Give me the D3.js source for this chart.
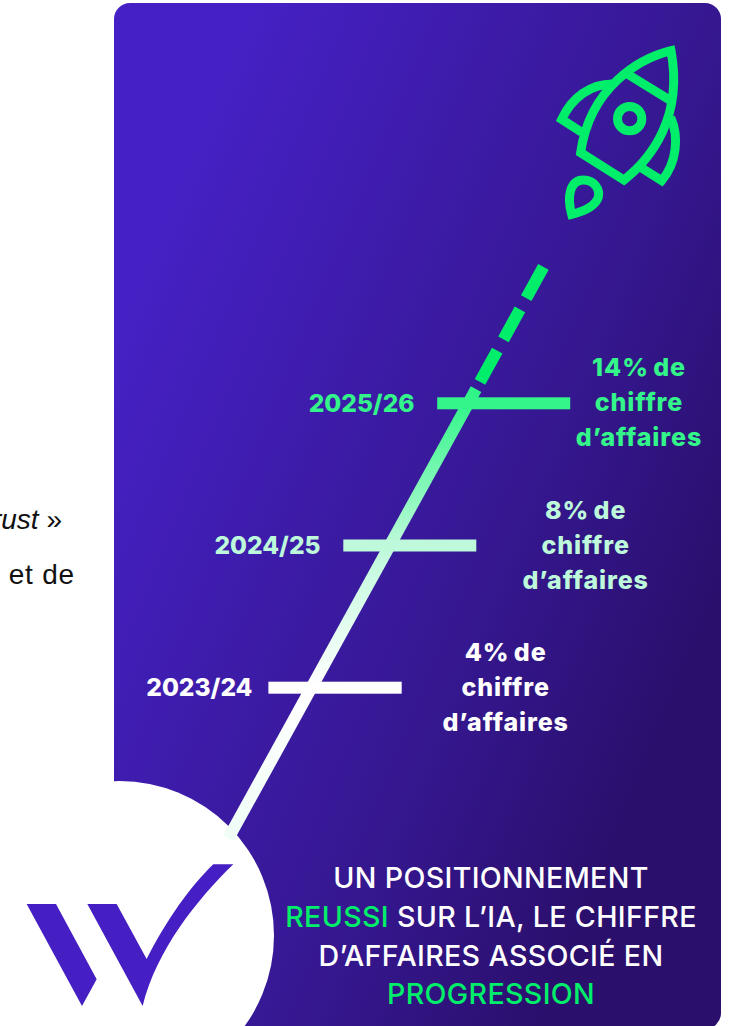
<!DOCTYPE html>
<html lang="fr">
<head>
<meta charset="utf-8">
<title>Chiffre d'affaires associé à l'IA</title>
<script src="https://cdn.jsdelivr.net/npm/d3@7/dist/d3.min.js"></script>
<style>
  html, body { margin: 0; padding: 0; background: #fff; overflow: hidden; }
  svg { display: block; }
  text { font-family: Inter, sans-serif; }
</style>
</head>
<body>
<svg id="chart" width="733" height="1026"></svg>
<script>
// Exercices et part du chiffre d'affaires liée à l'IA
const seasons = ["2023/24", "2024/25", "2025/26"];
const seasonYears = [2023, 2024, 2025];
const revenueShare = [4, 8, 14];
const shareLabelRest = ["chiffre", "d’affaires"];
const seasonColors = ["#ffffff", "#bdf9da", "#33f58a"];

// Trajectoire : tronçon plein puis projection en pointillés (en années)
const solidSpan = [2021.94, 2025.10];
const forecastDashes = [[2025.15, 2025.37], [2025.45, 2025.66], [2025.74, 2025.96]];

// Message de conclusion, ligne par ligne
const closingLines = [
  [["UN POSITIONNEMENT", false]],
  [["REUSSI", true], [" SUR L’IA, LE CHIFFRE", false]],
  [["D’AFFAIRES ASSOCIÉ EN", false]],
  [["PROGRESSION", true]]
];

const GREEN = "#00ee6a";
const svg = d3.select("#chart");
const defs = svg.append("defs");

// Échelles du graphique
const yearY = d3.scaleLinear().domain([2023, 2025]).range([687.7, 403.3]);
const yearX = d3.scaleLinear().domain([2023, 2025]).range([311.4, 468.2]);
const barStart = d3.scaleOrdinal(seasons, [268.4, 343.3, 437.2]);
const barLength = d3.scaleOrdinal(seasons, [133.3, 133, 133]);
const yearLabelEnd = d3.scaleOrdinal(seasons, [252.5, 320.5, 414.5]);
const shareLabelX = d3.scaleOrdinal(seasons, [505.7, 585.7, 639]);
const shareBaseline = d3.scaleOrdinal(seasons, [661, 519, 376]);

// Dégradés du panneau et de la trajectoire
const panelGrad = defs.append("linearGradient").attr("id", "panelGrad")
  .attr("gradientUnits", "userSpaceOnUse")
  .attr("x1", 114).attr("y1", 350).attr("x2", 721).attr("y2", 600);
panelGrad.selectAll("stop").data([[0, "#4520c4"], [0.67, "#35178f"], [1, "#2a0f6c"]]).join("stop")
  .attr("offset", d => d[0]).attr("stop-color", d => d[1]);

const trailGrad = defs.append("linearGradient").attr("id", "trailGrad")
  .attr("gradientUnits", "userSpaceOnUse")
  .attr("x1", 0).attr("x2", 0).attr("y1", yearY(solidSpan[0])).attr("y2", yearY(solidSpan[1]));
const trailStops = [[solidSpan[0], "#effdf6"], [2023, "#ffffff"], [2024, "#bdf9da"], [2025, "#33f58a"], [solidSpan[1], "#2ef588"]];
const trailOffset = d3.scaleLinear().domain(solidSpan).range([0, 1]);
trailGrad.selectAll("stop").data(trailStops).join("stop")
  .attr("offset", d => trailOffset(d[0])).attr("stop-color", d => d[1]);

// Panneau violet aux coins arrondis
svg.append("rect")
  .attr("x", 114).attr("y", 3).attr("width", 607).attr("height", 1026).attr("rx", 16)
  .attr("fill", "url(#panelGrad)");

// Disque blanc portant le logo
svg.append("circle").attr("cx", 119.5).attr("cy", 935.5).attr("r", 154.5).attr("fill", "#fff");

// Logo
const logo = svg.append("g").attr("transform", "translate(0,780) scale(0.3333)").attr("fill", "#451fc3");
logo.append("path").attr("d", "M80,372 L168,372 L290,598 L246,678 Z");
logo.append("path").attr("d", "M262,372 L350,372 L440,537 C500,420 570,320 640,253 L700,253 C590,360 470,510 428,678 Z");

// Trajectoire
const trail = d3.line().x(yearX).y(yearY);
svg.append("path").attr("d", trail(solidSpan))
  .attr("fill", "none").attr("stroke", "url(#trailGrad)").attr("stroke-width", 12);
svg.selectAll("path.dash").data(forecastDashes).join("path").attr("class", "dash")
  .attr("d", trail).attr("fill", "none").attr("stroke", GREEN).attr("stroke-width", 12);

// Repères annuels et libellés
const rows = seasons.map((s, i) => ({ season: s, year: seasonYears[i], share: revenueShare[i], color: seasonColors[i] }));

svg.selectAll("rect.bar").data(rows).join("rect").attr("class", "bar")
  .attr("x", d => barStart(d.season))
  .attr("y", d => yearY(d.year) - 6)
  .attr("width", d => barLength(d.season))
  .attr("height", 12)
  .attr("fill", d => d.color);

svg.selectAll("text.season").data(rows).join("text").attr("class", "season")
  .attr("x", d => yearLabelEnd(d.season))
  .attr("y", d => yearY(d.year) + 8.6)
  .attr("text-anchor", "end")
  .attr("font-size", 24.5).attr("font-weight", 800)
  .attr("fill", d => d.color)
  .text(d => d.season);

rows.forEach(d => {
  const lines = [`${d.share}% de`, ...shareLabelRest];
  svg.append("g").selectAll("text").data(lines).join("text")
    .attr("x", shareLabelX(d.season))
    .attr("y", (_, i) => shareBaseline(d.season) + i * 35.2)
    .attr("text-anchor", "middle")
    .attr("font-size", 25).attr("font-weight", 800)
    .attr("letter-spacing", 0.9).attr("word-spacing", -2)
    .attr("fill", d.color)
    .text(t => t);
});

// Fusée
const rocket = svg.append("g")
  .attr("transform", "translate(540,30) scale(0.3333)")
  .attr("fill", "none").attr("stroke", GREEN).attr("stroke-width", 27).attr("stroke-linejoin", "miter");
rocket.append("path").attr("d", "M393,62 C300,85 150,170 122,368 L252,450 C335,385 430,260 393,62 Z");
rocket.append("path").attr("d", "M262,132 L392,212");
rocket.append("circle").attr("cx", 269).attr("cy", 266).attr("r", 36.5);
rocket.append("path").attr("d", "M222,162 C150,160 95,205 65,268 L125,307");
rocket.append("path").attr("d", "M392,262 C418,320 410,400 365,452 L305,414");
rocket.append("path").attr("d", "M95,553 C80,500 90,450 130,450 C165,450 180,480 175,502 C165,530 130,545 95,553 Z");

// Message de conclusion
const closing = svg.append("g");
const closingBase = [888.3, 927.3, 965.7, 1004.3];
closingLines.forEach((parts, i) => {
  const line = closing.append("text")
    .attr("x", 491).attr("y", closingBase[i])
    .attr("text-anchor", "middle")
    .attr("font-size", 28.6).attr("font-weight", 500)
    .attr("letter-spacing", 0.35)
    .attr("xml:space", "preserve");
  parts.forEach(([t, hi]) => line.append("tspan").attr("fill", hi ? GREEN : "#fff").text(t));
});

// Texte du document voisin, coupé par le bord de page
svg.append("text").attr("x", 62).attr("y", 529)
  .attr("text-anchor", "end").attr("font-size", 28).attr("fill", "#111")
  .style("font-family", "'Liberation Sans', sans-serif")
  .html('<tspan font-style="italic">trust</tspan> »');
svg.append("text").attr("x", 75).attr("y", 584)
  .attr("text-anchor", "end").attr("font-size", 28).attr("fill", "#111")
  .attr("letter-spacing", 0.8)
  .style("font-family", "'Liberation Sans', sans-serif")
  .text("et de");
</script>
</body>
</html>
